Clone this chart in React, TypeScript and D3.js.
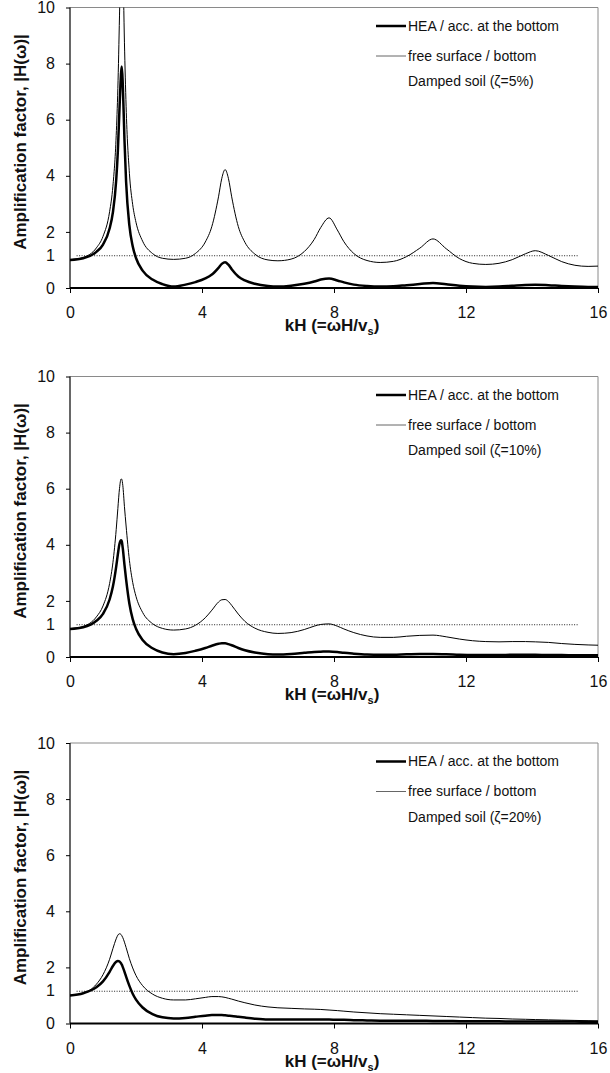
import * as d3 from "d3";
import { useEffect, useRef } from "react";

// kH (=ωH/vs) sample positions shared by every curve
const kH = [
  0, 0.4, 0.8, 1.0, 1.2, 1.3, 1.4, 1.45, 1.5, 1.55, 1.57, 1.6, 1.65, 1.7, 1.8,
  1.9, 2.0, 2.2, 2.5, 2.8, 3.14, 3.5, 3.8, 4.1, 4.3, 4.5, 4.6, 4.7, 4.8, 4.9,
  5.1, 5.3, 5.6, 6.0, 6.3, 6.7, 7.1, 7.4, 7.6, 7.85, 8.1, 8.3, 8.6, 9.0, 9.4,
  9.8, 10.2, 10.6, 11.0, 11.4, 11.8, 12.2, 12.6, 13.0, 13.4, 13.8, 14.1, 14.5,
  14.9, 15.3, 15.7, 16.0,
];

// ζ = 5%
const freeSurface5 = [
  1.0, 1.09, 1.43, 1.84, 2.72, 3.63, 5.44, 7.11, 9.7, 12.46, 12.72, 11.74, 8.74,
  6.48, 4.09, 2.97, 2.34, 1.67, 1.23, 1.06, 1.02, 1.06, 1.23, 1.64, 2.2, 3.25,
  3.91, 4.22, 3.91, 3.25, 2.19, 1.63, 1.21, 1.0, 0.97, 1.03, 1.3, 1.73, 2.16,
  2.5, 2.07, 1.65, 1.23, 0.98, 0.91, 0.95, 1.12, 1.42, 1.75, 1.4, 1.05, 0.88,
  0.84, 0.88, 1.01, 1.22, 1.33, 1.16, 0.94, 0.81, 0.77, 0.78,
];
const hea5 = [
  1.0, 1.06, 1.29, 1.55, 2.12, 2.7, 3.84, 4.88, 6.4, 7.7, 7.9, 7.25, 5.3, 3.79,
  2.22, 1.49, 1.07, 0.62, 0.3, 0.14, 0.05, 0.12, 0.21, 0.34, 0.48, 0.72, 0.86,
  0.92, 0.83, 0.67, 0.41, 0.27, 0.15, 0.07, 0.05, 0.08, 0.15, 0.23, 0.3, 0.34,
  0.27, 0.2, 0.12, 0.07, 0.05, 0.06, 0.1, 0.14, 0.18, 0.13, 0.08, 0.05, 0.04,
  0.05, 0.08, 0.11, 0.12, 0.1, 0.07, 0.05, 0.04, 0.04,
];

// ζ = 10%
const freeSurface10 = [
  1.0, 1.09, 1.43, 1.82, 2.62, 3.36, 4.54, 5.29, 6.01, 6.35, 6.33, 6.12, 5.36,
  4.67, 3.45, 2.66, 2.16, 1.59, 1.19, 1.02, 0.96, 1.0, 1.13, 1.4, 1.67, 1.96,
  2.04, 2.05, 1.98, 1.84, 1.53, 1.27, 1.03, 0.88, 0.84, 0.87, 0.98, 1.1, 1.16,
  1.18, 1.1, 1.0, 0.87, 0.75, 0.7, 0.7, 0.74, 0.77, 0.78, 0.72, 0.64, 0.58,
  0.55, 0.54, 0.55, 0.55, 0.54, 0.52, 0.48, 0.45, 0.43, 0.42,
];
const hea10 = [
  1.0, 1.06, 1.29, 1.54, 2.05, 2.51, 3.22, 3.66, 4.04, 4.16, 4.12, 3.87, 3.29,
  2.77, 1.9, 1.35, 1.01, 0.61, 0.31, 0.16, 0.1, 0.14, 0.22, 0.32, 0.4, 0.47,
  0.49, 0.49, 0.46, 0.42, 0.32, 0.24, 0.16, 0.1, 0.09, 0.11, 0.15, 0.18, 0.19,
  0.2, 0.18, 0.15, 0.12, 0.09, 0.08, 0.08, 0.1, 0.11, 0.11, 0.1, 0.08, 0.07,
  0.07, 0.07, 0.08, 0.08, 0.08, 0.07, 0.07, 0.06, 0.06, 0.06,
];

// ζ = 20%
const freeSurface20 = [
  1.0, 1.08, 1.4, 1.74, 2.29, 2.67, 3.02, 3.15, 3.2, 3.17, 3.13, 3.06, 2.9,
  2.71, 2.31, 1.98, 1.71, 1.35, 1.05, 0.9, 0.84, 0.84, 0.88, 0.93, 0.96, 0.96,
  0.95, 0.93, 0.9, 0.87, 0.8, 0.74, 0.66, 0.59, 0.56, 0.54, 0.52, 0.51, 0.5,
  0.48, 0.46, 0.44, 0.41, 0.38, 0.35, 0.33, 0.31, 0.29, 0.27, 0.25, 0.23, 0.21,
  0.19, 0.18, 0.16, 0.15, 0.14, 0.13, 0.12, 0.11, 0.1, 0.09,
];
const hea20 = [
  1.0, 1.08, 1.29, 1.5, 1.84, 2.05, 2.2, 2.23, 2.21, 2.14, 2.1, 2.01, 1.85,
  1.67, 1.34, 1.06, 0.85, 0.57, 0.33, 0.22, 0.18, 0.2, 0.24, 0.28, 0.3, 0.3,
  0.3, 0.29, 0.28, 0.27, 0.24, 0.21, 0.17, 0.14, 0.14, 0.14, 0.14, 0.14, 0.14,
  0.14, 0.13, 0.13, 0.12, 0.11, 0.1, 0.1, 0.1, 0.1, 0.09, 0.09, 0.08, 0.08,
  0.08, 0.08, 0.07, 0.07, 0.07, 0.07, 0.07, 0.07, 0.06, 0.06,
];

const dampingLabels = ["5%", "10%", "20%"];
const freeSurfaceSeries = [freeSurface5, freeSurface10, freeSurface20];
const heaSeries = [hea5, hea10, hea20];

const legendLabels = ["HEA / acc. at the bottom", "free surface / bottom"];
const yTicks = [0, 2, 4, 6, 8, 10];
const xTicks = [0, 4, 8, 12, 16];
const unityLine = 1.15; // dotted "1" reference as drawn in the figure
const unityExtent = [0.2, 15.4];

const FONT = "'Liberation Sans', Arial, Helvetica, sans-serif";

const App = () => {
  const ref = useRef<SVGSVGElement>(null);

  useEffect(() => {
    const width = 610;
    const height = 1073;
    const left = 70;
    const right = 598;
    const panelTops = [7.5, 376.5, 743];
    const panelHeight = 280.5;

    const svg = d3.select(ref.current).attr("width", width).attr("height", height);
    svg.selectAll("*").remove();

    const x = d3.scaleLinear().domain([0, 16]).range([left, right]);

    panelTops.forEach((top, i) => {
      const bottom = top + panelHeight;
      const y = d3.scaleLinear().domain([0, 10]).range([bottom, top]);
      const g = svg.append("g");

      const clipId = `plot-clip-${i}`;
      g.append("clipPath")
        .attr("id", clipId)
        .append("rect")
        .attr("x", left)
        .attr("y", top)
        .attr("width", right - left + 2)
        .attr("height", panelHeight + 2);

      // grey frame top / right
      g.append("path")
        .attr("d", `M${left},${top}H${right}V${bottom}`)
        .attr("fill", "none")
        .attr("stroke", "#8a8a8a")
        .attr("stroke-width", 1);

      // dotted unity line
      g.append("line")
        .attr("x1", x(unityExtent[0]))
        .attr("x2", x(unityExtent[1]))
        .attr("y1", y(unityLine))
        .attr("y2", y(unityLine))
        .attr("stroke", "#222")
        .attr("stroke-width", 1)
        .attr("stroke-dasharray", "1,1.5");

      const line = d3
        .line<number>()
        .x((d, j) => x(kH[j]))
        .y((d) => y(d))
        .curve(d3.curveMonotoneX);

      g.append("path")
        .datum(freeSurfaceSeries[i])
        .attr("clip-path", `url(#${clipId})`)
        .attr("d", line)
        .attr("fill", "none")
        .attr("stroke", "#000")
        .attr("stroke-width", 1);

      g.append("path")
        .datum(heaSeries[i])
        .attr("clip-path", `url(#${clipId})`)
        .attr("d", line)
        .attr("fill", "none")
        .attr("stroke", "#000")
        .attr("stroke-width", 2.5)
        .attr("stroke-linejoin", "round");

      // axes
      const yAxis = g
        .append("g")
        .attr("transform", `translate(${left},0)`)
        .call(d3.axisLeft(y).tickValues(yTicks).tickSize(4).tickPadding(11).tickFormat(d3.format("d")));
      yAxis.attr("font-size", 16).attr("font-family", FONT);
      yAxis.select(".domain").remove();
      yAxis.selectAll("line").attr("stroke", "#000");
      yAxis.selectAll("text").attr("fill", "#111");

      g.append("text")
        .attr("x", left - 15)
        .attr("y", y(unityLine))
        .attr("dy", "0.32em")
        .attr("text-anchor", "end")
        .attr("font-size", 16)
        .attr("font-family", FONT)
        .attr("fill", "#111")
        .text("1");

      const xAxis = g
        .append("g")
        .attr("transform", `translate(0,${bottom})`)
        .call(d3.axisBottom(x).tickValues(xTicks).tickSize(5).tickPadding(14).tickFormat(d3.format("d")));
      xAxis.attr("font-size", 16).attr("font-family", FONT);
      xAxis.select(".domain").remove();
      xAxis.selectAll("line").attr("stroke", "#000");
      xAxis.selectAll("text").attr("fill", "#111");

      g.append("line")
        .attr("x1", left)
        .attr("x2", left)
        .attr("y1", top)
        .attr("y2", bottom)
        .attr("stroke", "#000")
        .attr("stroke-width", 1.2);

      g.append("line")
        .attr("x1", left)
        .attr("x2", right)
        .attr("y1", bottom)
        .attr("y2", bottom)
        .attr("stroke", "#000")
        .attr("stroke-width", 2);

      // axis titles
      g.append("text")
        .attr("transform", `translate(20,${top + 134.5}) rotate(-90)`)
        .attr("text-anchor", "middle")
        .attr("dominant-baseline", "central")
        .attr("font-size", 17)
        .attr("font-weight", "bold")
        .attr("font-family", FONT)
        .attr("fill", "#111")
        .text("Amplification factor, |H(ω)|");

      const xt = g
        .append("text")
        .attr("x", 332)
        .attr("y", bottom + 43)
        .attr("text-anchor", "middle")
        .attr("font-size", 17)
        .attr("font-weight", "bold")
        .attr("font-family", FONT)
        .attr("fill", "#111");
      xt.append("tspan").text("kH (=ωH/v");
      xt.append("tspan").attr("font-size", 11).attr("dy", 4).text("s");
      xt.append("tspan").attr("dy", -4).text(")");

      // legend
      const lg = g.append("g").attr("font-family", FONT).attr("font-size", 14).attr("fill", "#111");
      const rows = [top + 18.5, top + 48.5];
      lg.append("line")
        .attr("x1", 376).attr("x2", 406)
        .attr("y1", rows[0]).attr("y2", rows[0])
        .attr("stroke", "#000").attr("stroke-width", 2.5);
      lg.append("line")
        .attr("x1", 376).attr("x2", 406)
        .attr("y1", rows[1]).attr("y2", rows[1])
        .attr("stroke", "#666").attr("stroke-width", 1);
      legendLabels.forEach((label, k) => {
        lg.append("text").attr("x", 408).attr("y", rows[k]).attr("dy", "0.35em").text(label);
      });
      lg.append("text")
        .attr("x", 408)
        .attr("y", top + 74)
        .attr("dy", "0.35em")
        .text(`Damped soil (ζ=${dampingLabels[i]})`);
    });
  }, []);

  return (
    <svg
      ref={ref}
      style={{ position: "absolute", left: 0, top: 0, display: "block", background: "#fff" }}
    />
  );
};

export default App;
